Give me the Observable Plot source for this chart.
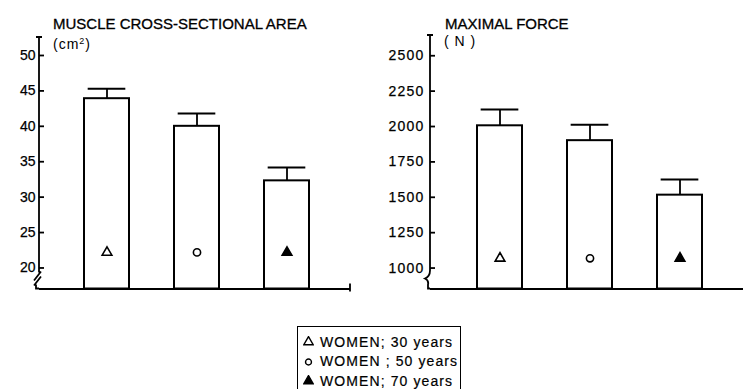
<!DOCTYPE html>
<html><head><meta charset="utf-8">
<script src="https://cdn.jsdelivr.net/npm/d3@7"></script>
<script src="https://cdn.jsdelivr.net/npm/@observablehq/plot@0.6"></script>
<style>
body{margin:0;background:#fff;}
#wrap{position:relative;width:743px;height:389px;overflow:hidden;background:#fff;font-family:"Liberation Sans",Arial,sans-serif;color:#000;}
.panel{position:absolute;top:0;}
.title{position:absolute;font-size:15px;line-height:15px;white-space:nowrap;-webkit-text-stroke:0.3px #000;}
.unit{position:absolute;font-size:14px;line-height:14px;white-space:nowrap;letter-spacing:1px;}
#legend{position:absolute;left:297px;top:326px;width:164px;height:80px;box-sizing:border-box;border:1.5px solid #000;padding:5px 0 0 5px;}
.row{height:19.5px;display:flex;align-items:center;font-size:14px;letter-spacing:1.1px;white-space:nowrap;-webkit-text-stroke:0.2px #000;}
.row svg{margin-right:6px;flex:none;}
</style></head><body><div id="wrap"></div>
<script>
// ---- data ----
const groups = ["WOMEN; 30 years", "WOMEN ; 50 years", "WOMEN; 70 years"];
const areaMean = [43.9, 40.0, 32.3];
const areaSD = [1.4, 1.8, 1.9];
const forceMean = [2005, 1900, 1515];
const forceSD = [115, 112, 110];
const areaTicks = [20, 25, 30, 35, 40, 45, 50];
const forceTicks = [1000, 1250, 1500, 1750, 2000, 2250, 2500];
const areaAxis = [17.03, 52.54];
const forceAxis = [852, 2643];
const areaMarkerY = 22.2;
const forceMarkerY = 1069;
const symbols = ["triangle", "circle", "triangle"];
const symbolFills = ["white", "white", "black"];
const titles = ["MUSCLE CROSS-SECTIONAL AREA", "MAXIMAL FORCE"];
const units = ["(cm²)", "( N )"];

const wrap = document.getElementById("wrap");
const FONT = '"Liberation Sans", Arial, sans-serif';

function panel(o) {
  const data = groups.map((g, i) => ({g, m: o.mean[i], top: o.mean[i] + o.sd[i], sym: symbols[i], fill: symbolFills[i], my: o.markerY}));
  const height = 300, marginBottom = 11.5;
  const bw = (o.band[1] - o.band[0]) / 2.5;
  const capInset = (bw - 8) / 2;
  const frameW = o.width - o.marginLeft - o.marginRight;
  const chart = Plot.plot({
    width: o.width, height,
    marginLeft: o.marginLeft, marginRight: o.marginRight, marginTop: o.marginTop, marginBottom,
    style: {fontFamily: FONT, fontSize: "14px", background: "transparent", color: "black", overflow: "visible"},
    x: {type: "band", domain: groups, range: o.band, paddingInner: 0.5, paddingOuter: 0, axis: null},
    y: {domain: o.domain, clamp: true},
    symbol: {legend: false},
    marks: [
      Plot.axisY({ticks: o.ticks, tickSize: 0, tickPadding: o.tickPadding, fontSize: 14, tickFormat: d => String(d), label: null}),
      Plot.tickY(o.ticks, {y: d => d, strokeWidth: 1.8, insetRight: frameW - 5}),
      Plot.barY(data, {x: "g", y: "m", fill: "white", stroke: "black", strokeWidth: 2}),
      Plot.ruleX(data, {x: "g", y1: "m", y2: "top", strokeWidth: 1.8}),
      Plot.tickY(data, {x: "g", y: "top", strokeWidth: 2, insetLeft: capInset, insetRight: capInset}),
      Plot.ruleY([o.domain[0]], {strokeWidth: 2}),
      Plot.dot(data, {x: "g", y: "my", symbol: "sym", fill: "fill", stroke: "black", strokeWidth: 1.6, r: 3.6})
    ]
  });
  chart.classList.add("panel");
  chart.style.left = o.left + "px";
  wrap.appendChild(chart);
  const svg = d3.select(chart.tagName.toLowerCase() === "svg" ? chart : chart.querySelector("svg"));
  if (o.letterSpacing) svg.selectAll("text").attr("letter-spacing", o.letterSpacing);
  svg.selectAll("text").attr("stroke", "black").attr("stroke-width", 0.25);
  const ax = o.marginLeft, top = o.marginTop, base = height - marginBottom;
  svg.append("path").attr("d", o.axisPath(ax, top, base))
    .attr("fill", "none").attr("stroke", "black").attr("stroke-width", 1.8);
  return chart;
}

panel({
  mean: areaMean, sd: areaSD, ticks: areaTicks, domain: areaAxis, markerY: areaMarkerY,
  left: 0, width: 370, marginLeft: 39, marginRight: 20, marginTop: 37, band: [82.7, 309.3], tickPadding: 4,
  axisPath: (x, t, b) => `M${x-3},${t}H${x+3}M${x},${t}V${b-16}M${x+2},${b-17}L${x-5},${b-8}M${x+2},${b-12}L${x-5},${b-3}M${x-3},${b-4}V${b}H${x}M${311+x},${b-5}V${b+3}`
});
panel({
  mean: forceMean, sd: forceSD, ticks: forceTicks, domain: forceAxis, markerY: forceMarkerY,
  left: 370, width: 373, marginLeft: 60, marginRight: 0, marginTop: 35, band: [106, 332.7], tickPadding: 6, letterSpacing: "1.2px",
  axisPath: (x, t, b) => `M${x-3},${t}H${x+3}M${x},${t}V${b-18}Q${x},${b-12} ${x-5},${b-10}Q${x-1},${b-8} ${x-2},${b-4}V${b}H${x}`
});

// titles
[[53, 16, 0], [445, 16, 1]].forEach(([l, t, i]) => {
  const d = document.createElement("div"); d.className = "title";
  d.style.left = l + "px"; d.style.top = t + "px"; d.textContent = titles[i]; wrap.appendChild(d);
});
[[53, 37, 0], [444, 34, 1]].forEach(([l, t, i]) => {
  const d = document.createElement("div"); d.className = "unit";
  d.style.left = l + "px"; d.style.top = t + "px"; d.innerHTML = i === 0 ? "(cm<sup style='font-size:9px;vertical-align:5px;line-height:0'>2</sup>)" : units[i]; wrap.appendChild(d);
});

// legend
const leg = document.createElement("div"); leg.id = "legend"; wrap.appendChild(leg);
groups.forEach((g, i) => {
  const row = document.createElement("div"); row.className = "row";
  const s = d3.create("svg").attr("width", 11).attr("height", 11);
  const sym = symbols[i] === "circle" ? d3.symbolCircle : d3.symbolTriangle;
  s.append("path").attr("transform", "translate(5.5,6)")
    .attr("d", d3.symbol(sym, symbols[i] === "circle" ? 28 : 38)())
    .attr("fill", symbolFills[i]).attr("stroke", "black").attr("stroke-width", 1.4);
  row.appendChild(s.node());
  const t = document.createElement("span"); t.textContent = g; row.appendChild(t);
  leg.appendChild(row);
});
</script></body></html>
